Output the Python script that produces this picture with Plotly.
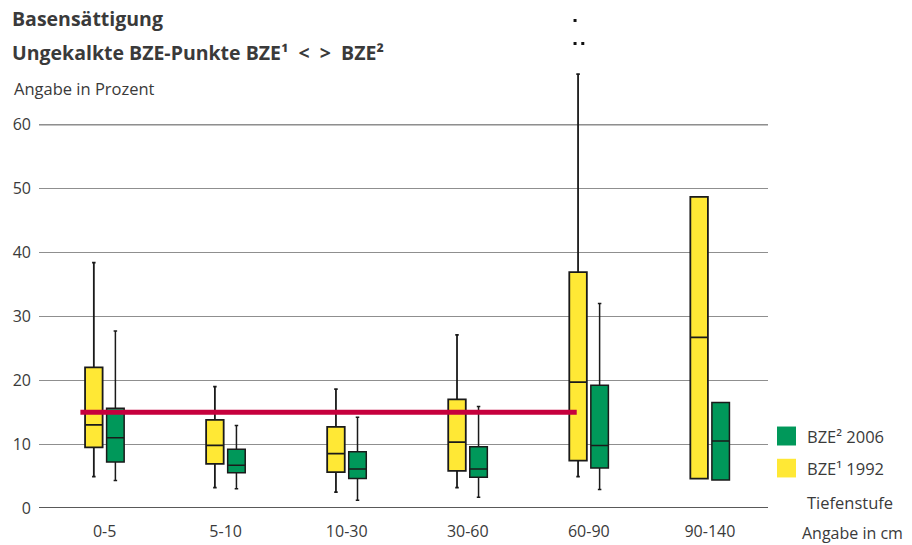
import plotly.graph_objects as go

# ---- data ----
categories = ["0-5", "5-10", "10-30", "30-60", "60-90", "90-140"]

y1992_lower = [4.9, 3.2, 2.5, 3.2, 4.9, 4.6]
y1992_q1 = [9.5, 6.9, 5.6, 5.8, 7.4, 4.6]
y1992_median = [13.0, 9.8, 8.5, 10.3, 19.7, 26.7]
y1992_q3 = [22.0, 13.8, 12.7, 17.0, 36.9, 48.7]
y1992_upper = [38.4, 19.0, 18.6, 27.1, 67.9, 48.7]

y2006_lower = [4.3, 3.0, 1.2, 1.7, 2.9, 4.4]
y2006_q1 = [7.2, 5.5, 4.6, 4.8, 6.25, 4.4]
y2006_median = [11.0, 6.7, 6.1, 6.1, 9.8, 10.5]
y2006_q3 = [15.6, 9.2, 8.8, 9.6, 19.2, 16.5]
y2006_upper = [27.7, 12.9, 14.2, 15.9, 32.0, 16.5]

outlier_category = "60-90"
outliers_1992 = [76.3, 72.7, 72.7]

reference_value = 15
ytick_values = [0, 10, 20, 30, 40, 50, 60]

# ---- style ----
YELLOW = "#FFE835"
GREEN = "#00985A"
RED = "#C6003D"
TXT = "#3a3a3a"
FONT = "Open Sans"

W, H = 912, 545
L, R, T, B = 39, 768, 15.5, 508.3
YMAX = 77


def pxx(x):
    return (x - L) / (R - L)


def pxy(y):
    return (B - y) / (B - T)


off = 0.089
bw = 0.145
xpos = list(range(len(categories)))

fig = go.Figure()

fig.add_trace(go.Box(
    x=[i - off for i in xpos], q1=y1992_q1, median=y1992_median, q3=y1992_q3,
    lowerfence=y1992_lower, upperfence=y1992_upper,
    width=bw, whiskerwidth=0.2, fillcolor=YELLOW,
    line=dict(color="#1a1a1a", width=1.8), boxpoints=False,
    name="BZE¹ 1992", showlegend=False))

fig.add_trace(go.Box(
    x=[i + off for i in xpos], q1=y2006_q1, median=y2006_median, q3=y2006_q3,
    lowerfence=y2006_lower, upperfence=y2006_upper,
    width=bw, whiskerwidth=0.2, fillcolor=GREEN,
    line=dict(color="#1a1a1a", width=1.5), boxpoints=False,
    name="BZE² 2006", showlegend=False))

ci = categories.index(outlier_category)
jit = [-0.025, -0.025, 0.039]
fig.add_trace(go.Scatter(
    x=[ci - off + j for j in jit], y=outliers_1992, mode="markers",
    marker=dict(symbol="square", size=3, color="#111"),
    showlegend=False, hoverinfo="y"))

shapes = []
# reference line
shapes.append(dict(type="line", xref="x", yref="y", x0=-0.2, x1=3.9,
                   y0=reference_value, y1=reference_value,
                   line=dict(color=RED, width=5), layer="above"))
# dark base and top lines
for v, c, w in [(0, "#222", 1.6), (60, "#111", 1.1)]:
    shapes.append(dict(type="line", xref="paper", yref="y", x0=0, x1=1,
                       y0=v, y1=v, line=dict(color=c, width=w), layer="between"))
# legend squares
shapes.append(dict(type="rect", xref="paper", yref="paper",
                   x0=pxx(777), x1=pxx(796), y0=pxy(445.7), y1=pxy(426.7),
                   fillcolor=GREEN, line=dict(width=0)))
shapes.append(dict(type="rect", xref="paper", yref="paper",
                   x0=pxx(777), x1=pxx(796), y0=pxy(477.7), y1=pxy(459),
                   fillcolor=YELLOW, line=dict(width=0)))

ann = []


def text(x, y, s, size, bold=False):
    ann.append(dict(xref="paper", yref="paper", x=pxx(x), y=pxy(y),
                    xanchor="left", yanchor="middle", showarrow=False,
                    text=("<b>%s</b>" % s) if bold else s,
                    font=dict(family=FONT, size=size, color=TXT)))


NB = "\u00a0\u00a0"
text(10, 18, "Basensättigung", 19.5, True)
text(10, 52, "Ungekalkte BZE-Punkte BZE¹" + NB + "&lt;" + NB + "&gt;" + NB + "BZE²", 19.5, True)
text(12, 88, "Angabe in Prozent", 16.5)
text(805, 437, "BZE² 2006", 16.5)
text(805, 469, "BZE¹ 1992", 16.5)
text(805, 503, "Tiefenstufe", 16.5)
text(800, 533, "Angabe in cm", 16)

fig.update_layout(
    width=W, height=H, autosize=False,
    margin=dict(l=L, r=W - R, t=T, b=H - B, pad=0),
    paper_bgcolor="white", plot_bgcolor="white",
    shapes=shapes, annotations=ann,
    font=dict(family=FONT, color=TXT),
)
fig.update_xaxes(range=[-0.542, 5.48], tickvals=xpos, ticktext=categories,
                 showgrid=False, zeroline=False, showline=False, ticks="",
                 tickfont=dict(size=16, color=TXT), ticklabelstandoff=12,
                 automargin=False)
fig.update_yaxes(range=[0, YMAX], tickvals=ytick_values, showgrid=True,
                 gridcolor="#8f8f8f", gridwidth=1.3, zeroline=False,
                 showline=False, ticks="", tickfont=dict(size=16, color=TXT),
                 ticklabelstandoff=7, automargin=False)

fig.write_html("out.html", config={"displayModeBar": False},
               post_script="document.body.style.margin='0';document.body.style.padding='0';")
